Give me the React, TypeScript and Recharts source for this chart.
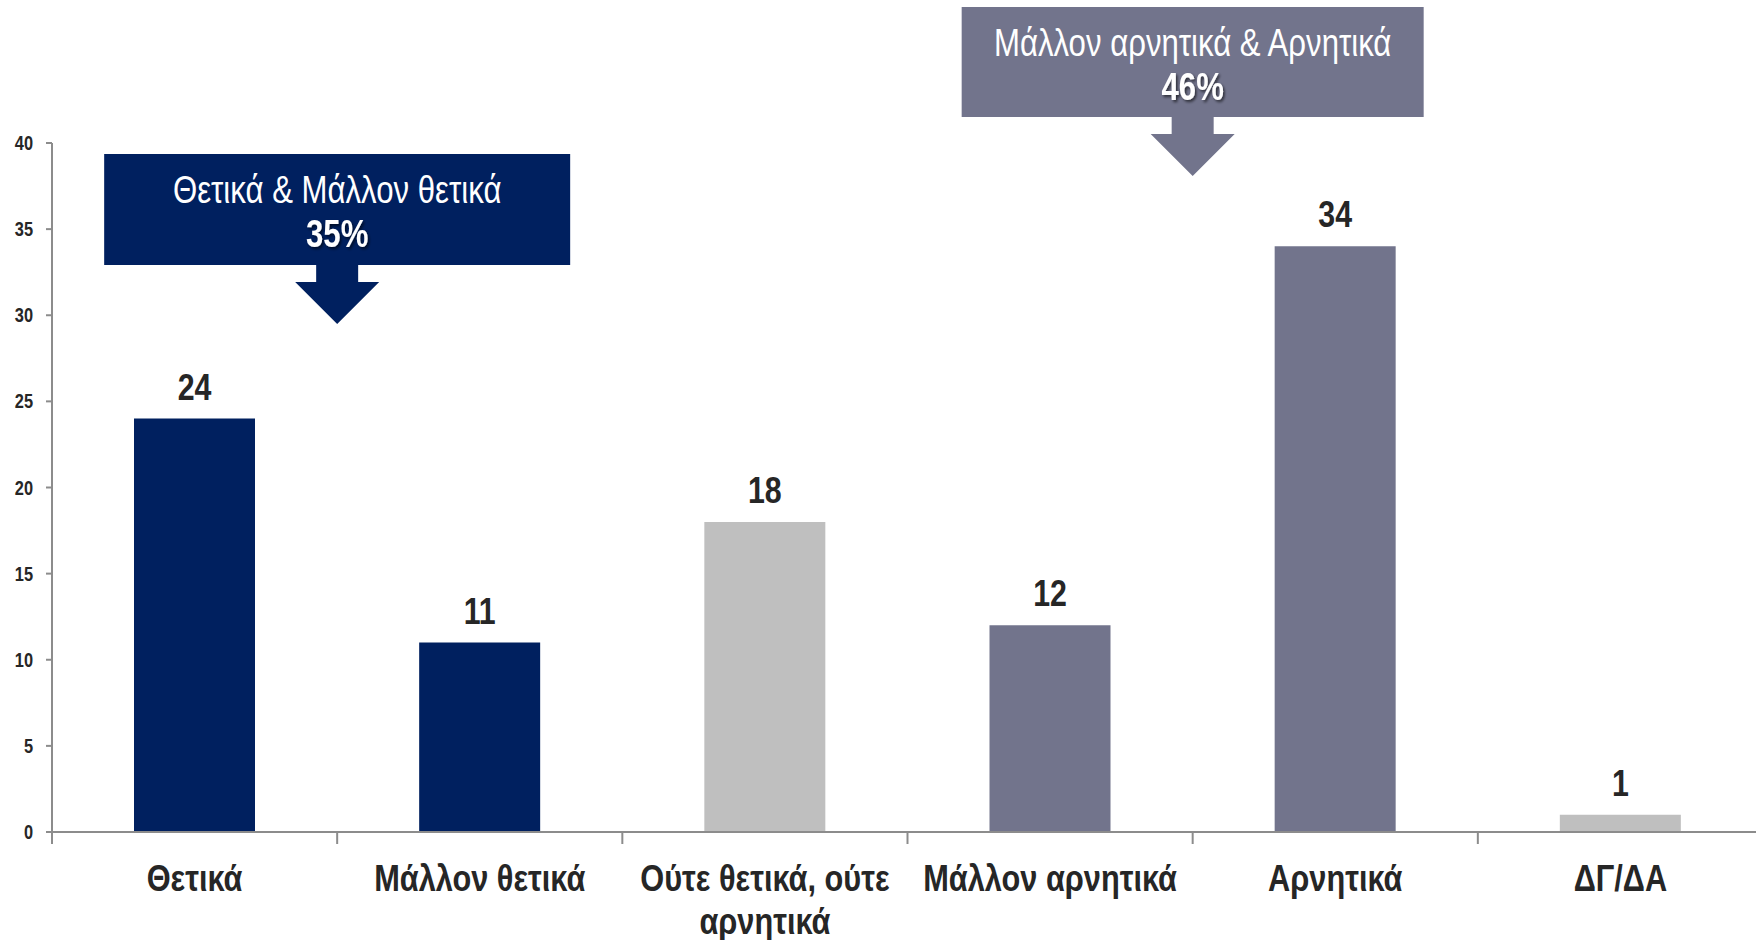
import { BarChart, Bar, XAxis, YAxis, Cell, LabelList } from "recharts";

const categories = [
  "Θετικά",
  "Μάλλον θετικά",
  "Ούτε θετικά, ούτε αρνητικά",
  "Μάλλον αρνητικά",
  "Αρνητικά",
  "ΔΓ/ΔΑ",
];
const values = [24, 11, 18, 12, 34, 1];
const barColors = ["#00205F", "#00205F", "#BFBFBF", "#72748C", "#72748C", "#BFBFBF"];
const yTicks = [0, 5, 10, 15, 20, 25, 30, 35, 40];

// callout groups: label, total, colour, index of the boundary they sit on
const groupLabels = ["Θετικά & Μάλλον θετικά", "Μάλλον αρνητικά & Αρνητικά"];
const groupTotals = [35, 46];
const groupColors = ["#00205F", "#72748C"];
const groupBoundary = [1, 4];

const data = categories.map((name, i) => ({ name, value: values[i] }));

const W = 1763;
const H = 940;
const LEFT = 52;
const TOP = 143;
const BOTTOM = 108;
const PLOT_BOTTOM = H - BOTTOM;
const BAND = (W - LEFT) / categories.length;
const FONT = "'Liberation Sans', Arial, sans-serif";
const NARROW = 0.82; // Arial Narrow look
const AXIS = "#8C8C8C";
const TEXT = "#262626";

// narrow text: Liberation Sans squeezed horizontally around its anchor
function NText({ x, y, anchor = "middle", size, bold, fill = TEXT, filter, children }: any) {
  return (
    <text
      transform={`translate(${x},${y}) scale(${NARROW},1)`}
      textAnchor={anchor}
      fill={fill}
      fontSize={size}
      fontWeight={bold ? 700 : 400}
      fontFamily={FONT}
      filter={filter}
    >
      {children}
    </text>
  );
}

function wrap(label: string, max = 18) {
  const words = label.split(" ");
  const lines: string[] = [];
  let cur = "";
  for (const w of words) {
    const next = cur ? cur + " " + w : w;
    if (next.length > max && cur) {
      lines.push(cur);
      cur = w;
    } else cur = next;
  }
  if (cur) lines.push(cur);
  return lines;
}

function CategoryTick(props: any) {
  const { payload, index } = props;
  const x = payload.coordinate;
  const lines = wrap(payload.value);
  const bx = x - BAND / 2;
  return (
    <g>
      <line x1={bx} x2={bx} y1={PLOT_BOTTOM} y2={PLOT_BOTTOM + 12} stroke={AXIS} strokeWidth={2} />
      {index === categories.length - 1 && (
        <line x1={x + BAND / 2} x2={x + BAND / 2} y1={PLOT_BOTTOM} y2={PLOT_BOTTOM + 12} stroke={AXIS} strokeWidth={2} />
      )}
      {lines.map((l, i) => (
        <NText key={i} x={x} y={PLOT_BOTTOM + 59 + i * 43} size={37.5} bold>
          {l}
        </NText>
      ))}
    </g>
  );
}

function ValueTick(props: any) {
  const { x, y, payload } = props;
  return (
    <NText x={x} y={y + 7} anchor="end" size={20} bold>
      {payload.value}
    </NText>
  );
}

function ValueLabel(props: any) {
  const { x, y, width, value } = props;
  return (
    <NText x={x + width / 2} y={y - 19} size={37} bold>
      {value}
    </NText>
  );
}

function Callouts() {
  const boxes = [
    { top: 154, h: 111, w: 466 },
    { top: 7, h: 110, w: 462 },
  ];
  return (
    <svg width={W} height={H} style={{ position: "absolute", left: 0, top: 0, pointerEvents: "none" }}>
      <defs>
        <filter id="sh" x="-20%" y="-20%" width="140%" height="160%">
          <feDropShadow dx="2" dy="2" stdDeviation="1.5" floodColor="#000" floodOpacity="0.6" />
        </filter>
      </defs>
      {groupLabels.map((label, i) => {
        const cx = LEFT + groupBoundary[i] * BAND;
        const b = boxes[i];
        const bottom = b.top + b.h;
        const c = groupColors[i];
        return (
          <g key={i}>
            <rect x={cx - b.w / 2} y={b.top} width={b.w} height={b.h} fill={c} />
            <polygon
              points={`${cx - 21},${bottom} ${cx + 21},${bottom} ${cx + 21},${bottom + 17} ${cx + 42},${bottom + 17} ${cx},${bottom + 59} ${cx - 42},${bottom + 17} ${cx - 21},${bottom + 17}`}
              fill={c}
            />
            <NText x={cx} y={b.top + 49} size={38} fill="#fff">
              {label}
            </NText>
            <NText x={cx} y={b.top + 93} size={38} bold fill="#fff" filter="url(#sh)">
              {groupTotals[i]}%
            </NText>
          </g>
        );
      })}
    </svg>
  );
}

export default function App() {
  return (
    <div style={{ position: "absolute", left: 0, top: 0, width: 1756, height: H, overflow: "hidden", background: "#fff" }}>
      <BarChart width={W} height={H} data={data} margin={{ top: TOP, right: 0, bottom: 0, left: 0 }}>
        <XAxis
          dataKey="name"
          height={BOTTOM}
          interval={0}
          tickLine={false}
          axisLine={{ stroke: AXIS, strokeWidth: 2 }}
          tick={<CategoryTick />}
        />
        <YAxis
          width={LEFT}
          domain={[0, 40]}
          ticks={yTicks}
          interval={0}
          tickSize={6}
          tickMargin={13}
          axisLine={{ stroke: AXIS, strokeWidth: 2 }}
          tickLine={{ stroke: AXIS, strokeWidth: 2 }}
          tick={<ValueTick />}
        />
        <Bar dataKey="value" barSize={121} isAnimationActive={false}>
          {data.map((d, i) => (
            <Cell key={d.name} fill={barColors[i]} />
          ))}
          <LabelList dataKey="value" content={<ValueLabel />} />
        </Bar>
      </BarChart>
      <Callouts />
    </div>
  );
}
